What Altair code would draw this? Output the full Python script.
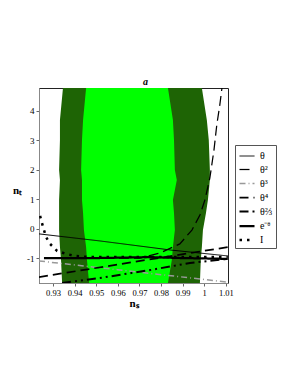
import altair as alt
import pandas as pd

# ---- confidence regions (n_s extent at each n_t level) ----
nt_levels   = [4.78, 3.69, 3.01, 1.99, 1.65, 0.97, 0.53, -0.05, -0.63, -1.07, -1.85]
dark_left   = [0.9346, 0.9332, 0.9332, 0.9328, 0.9332, 0.9328, 0.9328, 0.9328, 0.9332, 0.9337, 0.9342]
light_left  = [0.9453, 0.9439, 0.9434, 0.9430, 0.9434, 0.9434, 0.9439, 0.9443, 0.9453, 0.9457, 0.9467]
light_right = [0.9832, 0.9855, 0.9860, 0.9864, 0.9873, 0.9855, 0.9860, 0.9864, 0.9855, 0.9850, 0.9832]
dark_right  = [0.9989, 1.0012, 1.0021, 1.0026, 1.0026, 1.0017, 1.0008, 0.9994, 0.9989, 0.9984, 0.9980]

# ---- model curves ----
theta_ns = [0.9235, 0.9517, 0.9846, 1.0109]
theta_nt = [-0.18, -0.42, -0.73, -0.93]
theta2_ns = [0.9258, 0.9500, 0.9702, 0.9795, 0.9887, 0.9943, 0.9980, 1.0003, 1.0026, 1.0045, 1.0058, 1.0072, 1.0082]
theta2_nt = [-1.0, -1.0, -1.0, -0.83, -0.52, -0.05, 0.46, 0.97, 1.72, 2.67, 3.52, 4.20, 4.78]
theta3_ns = [0.9235, 0.9600, 1.0109]
theta3_nt = [-1.10, -1.40, -1.82]
theta4_ns = [0.9235, 0.9600, 1.0109]
theta4_nt = [-1.65, -1.22, -0.63]
theta23_ns = [0.9342, 0.9517, 0.9749, 0.9934, 1.0109]
theta23_nt = [-1.85, -1.68, -1.41, -1.17, -1.03]
exp_ns = [0.9258, 0.9517, 0.9749, 0.9887, 1.0109]
exp_nt = [-1.0, -1.0, -0.97, -1.0, -1.03]
i_ns = [0.9240, 0.9254, 0.9268, 0.9286, 0.9319, 0.9360, 0.9402, 0.9471, 0.9656, 0.9887, 1.0109]
i_nt = [0.43, 0.05, -0.29, -0.52, -0.76, -0.86, -0.93, -0.97, -0.97, -0.97, -0.97]

x_ticks = [0.93, 0.94, 0.95, 0.96, 0.97, 0.98, 0.99, 1.0, 1.01]
y_ticks = [-1, 0, 1, 2, 3, 4]

series_names = ["θ", "θ²", "θ³", "θ⁴", "θ⅔", "e⁻ᶿ", "I"]
series_data = [(theta_ns, theta_nt), (theta2_ns, theta2_nt), (theta3_ns, theta3_nt),
               (theta4_ns, theta4_nt), (theta23_ns, theta23_nt), (exp_ns, exp_nt), (i_ns, i_nt)]
series_colors = ["black", "black", "#999999", "black", "black", "black", "black"]
series_dash = [[1, 0], [10, 5], [6, 3, 1, 3], [9, 5], [9, 4, 2, 4, 2, 4], [1, 0], [2.5, 5]]
series_width = [1, 2.5, 1, 1, 2.5, 3, 2.5]

rows = []
for name, (xs, ys) in zip(series_names, series_data):
    for k, (xv, yv) in enumerate(zip(xs, ys)):
        rows.append({"series": name, "ns": xv, "nt": yv, "ord": k})
lines_df = pd.DataFrame(rows)

region_df = pd.DataFrame({"nt": nt_levels, "dl": dark_left, "ll": light_left,
                          "lr": light_right, "dr": dark_right})

xscale = alt.Scale(domain=[0.9235, 1.011], nice=False, zero=False)
yscale = alt.Scale(domain=[-1.85, 4.78], nice=False, zero=False)

serif = "Liberation Serif"

xaxis = alt.Axis(values=x_ticks,
                 format=".2~f", title="nₛ", titleFontWeight="bold", titleFont=serif,
                 titleFontSize=11, titleY=14, titleBaseline="top",
                 labelFont=serif, labelFontSize=8.5, tickSize=3, labelPadding=2,
                 labelOverlap=False, labelFlush=False,
                 domainColor="#888888", tickColor="#666666", grid=False, labelColor="black")
yaxis = alt.Axis(values=y_ticks,
                 labelExpr="datum.value < 0 ? '-' + abs(datum.value) : '' + datum.value",
                 title="nₜ", titleAngle=0, titleX=-22, titleY=102, titleAlign="center",
                 titleBaseline="middle", titleFontWeight="bold", titleFont=serif, titleFontSize=11,
                 labelFont=serif, labelFontSize=9, tickSize=3, labelPadding=2,
                 labelOverlap=False, labelFlush=False,
                 domainColor="#888888", tickColor="#666666", grid=False, labelColor="black")

dark = alt.Chart(region_df).mark_area(orient="horizontal", color="#1e6405", clip=True).encode(
    y=alt.Y("nt:Q", scale=yscale, axis=yaxis),
    x=alt.X("dl:Q", scale=xscale, axis=xaxis),
    x2="dr:Q",
)
light = alt.Chart(region_df).mark_area(orient="horizontal", color="#00ff00", clip=True).encode(
    y=alt.Y("nt:Q", scale=yscale, axis=yaxis),
    x=alt.X("ll:Q", scale=xscale, axis=xaxis),
    x2="lr:Q",
)

legend = alt.Legend(title=None, orient="none", legendX=196, legendY=57,
                    symbolType="stroke", symbolSize=225, rowPadding=0,
                    labelFont=serif, labelFontSize=10, labelOffset=4,
                    padding=3, strokeColor="#555555", fillColor="white", labelColor="black")

lines = alt.Chart(lines_df).mark_line(clip=True, strokeCap="butt").encode(
    x=alt.X("ns:Q", scale=xscale, axis=xaxis),
    y=alt.Y("nt:Q", scale=yscale, axis=yaxis),
    order="ord:Q",
    color=alt.Color("series:N", scale=alt.Scale(domain=series_names, range=series_colors), legend=legend),
    strokeDash=alt.StrokeDash("series:N", scale=alt.Scale(domain=series_names, range=series_dash), legend=legend),
    strokeWidth=alt.StrokeWidth("series:N", scale=alt.Scale(domain=series_names, range=series_width), legend=legend),
)

chart = alt.layer(dark, light, lines).properties(
    width=189, height=195,
    title=alt.Title("a", font=serif, fontSize=10, fontStyle="italic", fontWeight="bold",
                    anchor="middle", dx=12, offset=1),
    autosize=alt.AutoSizeParams(type="none"),
    padding={"left": 31, "top": 80, "right": 54, "bottom": 80},
).configure_view(stroke="#222222", strokeWidth=1)

chart.save("out.html", embed_options={"renderer": "svg", "actions": False})
